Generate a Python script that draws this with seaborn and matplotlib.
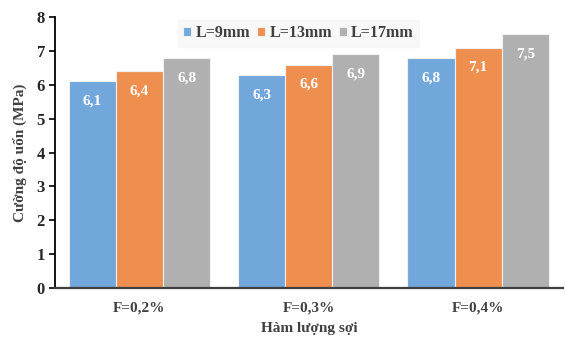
import matplotlib
matplotlib.use("Agg")
import matplotlib.pyplot as plt
import seaborn as sns
import pandas as pd

categories = ["F=0,2%", "F=0,3%", "F=0,4%"]
series = ["L=9mm", "L=13mm", "L=17mm"]
values_9 = [6.1, 6.3, 6.8]
values_13 = [6.4, 6.6, 7.1]
values_17 = [6.8, 6.9, 7.5]
yticks = [0, 1, 2, 3, 4, 5, 6, 7, 8]

sns.set_style("white")
plt.rcParams["font.family"] = ["Liberation Serif", "DejaVu Serif"]

df = pd.DataFrame({
    "cat": categories * 3,
    "series": [series[0]] * 3 + [series[1]] * 3 + [series[2]] * 3,
    "val": values_9 + values_13 + values_17,
})

colors = ["#72A7DB", "#EE8F4F", "#B0B0B0"]

fig = plt.figure(figsize=(5.65, 3.42), dpi=100)
ax = fig.add_axes([0.097, 0.158, 0.899, 0.792])

sns.barplot(data=df, x="cat", y="val", hue="series", palette=colors,
            width=0.835, gap=0, edgecolor="#F0F0F0", linewidth=0.8,
            saturation=1, ax=ax, legend=True)

for cont in ax.containers:
    labels = [f"{v:.1f}".replace(".", ",") for v in cont.datavalues]
    ax.bar_label(cont, labels=labels, label_type="edge", padding=-19,
                 color="white", fontsize=11, fontweight="bold")

ax.set_ylim(0, 8)
ax.set_xlim(-0.5, 2.5)
ax.set_yticks(yticks)
ax.set_yticklabels([str(t) for t in yticks], fontsize=12, fontweight="bold")
ax.tick_params(axis="y", which="both", left=True, length=4, width=1.2, color="black", pad=3)
ax.tick_params(axis="x", length=0, pad=10)
for lbl in ax.get_xticklabels():
    lbl.set_fontsize(11)
    lbl.set_fontweight("bold")
    lbl.set_color("#404040")

ax.set_xlabel("Hàm lượng sợi", fontsize=11, fontweight="bold", color="#404040", labelpad=5)
ax.set_ylabel("Cường độ uốn (MPa)", fontsize=11, fontweight="bold", color="#404040", labelpad=7)

for s in ["top", "right"]:
    ax.spines[s].set_visible(False)
ax.spines["left"].set_color("black")
ax.spines["left"].set_linewidth(1.3)
ax.spines["bottom"].set_color("#404040")
ax.spines["bottom"].set_linewidth(1.6)

leg = ax.legend(loc="upper center", bbox_to_anchor=(0.48, 1.02), ncol=3,
                frameon=True, fancybox=False, handlelength=0.5, handleheight=0.5,
                handletextpad=0.25, columnspacing=0.45, borderpad=0.35,
                prop={"family": ["Liberation Serif"], "weight": "bold", "size": 11.5})
leg.get_frame().set_facecolor("#F7F7F7")
leg.get_frame().set_edgecolor("#F7F7F7")
for t in leg.get_texts():
    t.set_color("#404040")

fig.savefig("out.png", dpi=100)
